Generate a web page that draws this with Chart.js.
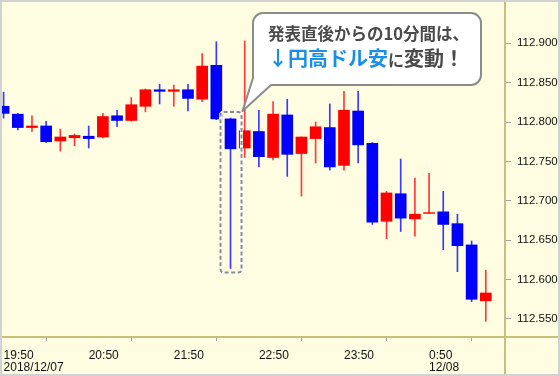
<!DOCTYPE html>
<html>
<head>
<meta charset="utf-8">
<script src="https://cdn.jsdelivr.net/npm/chart.js@4.4.1/dist/chart.umd.min.js"></script>
<style>
  html, body { margin: 0; padding: 0; background: #d2d2d2; }
  #wrap { width: 560px; height: 376px; }
</style>
</head>
<body>
<div id="wrap"><canvas id="chart" width="560" height="376"></canvas></div>
<script>
// 10-minute USD/JPY candles, 2018/12/07 19:50 -> 12/08 1:30
const opens  = [112.820,112.810,112.793,112.795,112.776,112.780,112.782,112.781,112.808,112.802,
                112.820,112.841,112.839,112.841,112.829,112.872,112.804,112.767,112.788,112.755,
                112.809,112.760,112.779,112.793,112.745,112.814,112.773,112.674,112.709,112.677,
                112.684,112.686,112.671,112.644,112.573];
const highs  = [112.838,112.811,112.808,112.801,112.791,112.785,112.795,112.811,112.815,112.831,
                112.842,112.848,112.847,112.848,112.887,112.902,112.805,112.903,112.815,112.826,
                112.829,112.781,112.800,112.823,112.839,112.839,112.774,112.712,112.753,112.729,
                112.735,112.712,112.683,112.649,112.612];
const lows   = [112.805,112.790,112.788,112.774,112.763,112.770,112.767,112.780,112.794,112.801,
                112.813,112.823,112.820,112.814,112.826,112.803,112.614,112.755,112.743,112.752,
                112.731,112.706,112.748,112.739,112.739,112.748,112.670,112.652,112.661,112.655,
                112.684,112.638,112.610,112.572,112.547];
const closes = [112.811,112.793,112.795,112.775,112.781,112.783,112.779,112.807,112.802,112.822,
                112.841,112.839,112.841,112.830,112.871,112.804,112.766,112.789,112.756,112.810,
                112.759,112.781,112.794,112.743,112.815,112.771,112.673,112.710,112.678,112.683,
                112.685,112.670,112.643,112.575,112.583];

const timeTicks  = [0, 6, 12, 18, 24, 30];
const timeLabels = [['19:50', '2018/12/07'], '20:50', '21:50', '22:50', '23:50', ['0:50', '12/08']];
const priceTicks = [112.55, 112.60, 112.65, 112.70, 112.75, 112.80, 112.85, 112.90];

const highlightIndex = 16;   // first 10 minutes after the release
const noteLine1 = '発表直後からの10分間は、';
const noteLine2 = [
  { text: '↓円高ドル安', color: '#1a8fe3', size: 20 },
  { text: 'に',          color: '#4a4a4a', size: 16 },
  { text: '変動！',      color: '#4a4a4a', size: 20 }
];

const UP = '#ff0000', DOWN = '#0000ff';
const UP_WICK = '#ff3a3a', DOWN_WICK = '#3a3aff';
const BG = '#fffde1', FRAME = '#d2d2d2', AXIS = '#c6c07a';
const FONT = '"Liberation Sans", Arial, sans-serif';
const JP = '"Noto Sans CJK JP", sans-serif';

const isUp = i => closes[i] >= opens[i];
const idx = opens.map((_, i) => i);

const backdrop = {
  id: 'backdrop',
  beforeDraw(chart) {
    const ctx = chart.ctx;
    ctx.save();
    ctx.fillStyle = FRAME;
    ctx.fillRect(0, 0, chart.width, chart.height);
    ctx.fillStyle = BG;
    ctx.fillRect(2, 2, chart.width - 4, chart.height - 4);
    ctx.restore();
  },
  beforeDatasetsDraw(chart) {
    const { ctx, chartArea: a } = chart;
    ctx.save();
    ctx.strokeStyle = AXIS;
    ctx.lineWidth = 2;
    ctx.beginPath();
    ctx.moveTo(2, a.bottom);
    ctx.lineTo(chart.width - 2, a.bottom);
    ctx.moveTo(a.right, 2);
    ctx.lineTo(a.right, chart.height - 2);
    ctx.stroke();
    ctx.restore();
  }
};

function roundRect(ctx, x, y, w, h, r) {
  ctx.beginPath();
  ctx.moveTo(x + r, y);
  ctx.arcTo(x + w, y, x + w, y + h, r);
  ctx.arcTo(x + w, y + h, x, y + h, r);
  ctx.arcTo(x, y + h, x, y, r);
  ctx.arcTo(x, y, x + w, y, r);
  ctx.closePath();
}

const callout = {
  id: 'callout',
  afterDatasetsDraw(chart) {
    const ctx = chart.ctx;
    const xs = chart.scales.x, ys = chart.scales.y;

    // dashed frame round the release candle
    const cx = xs.getPixelForValue(highlightIndex);
    const bx = cx - 10, bw = 21;
    const by = ys.getPixelForValue(highs[highlightIndex]) - 6;
    const bh = ys.getPixelForValue(lows[highlightIndex]) + 4 - by;
    ctx.save();
    ctx.lineWidth = 3;
    ctx.strokeStyle = '#ffffff';
    roundRect(ctx, bx, by, bw, bh, 3);
    ctx.stroke();
    ctx.lineWidth = 2;
    ctx.strokeStyle = '#8c8c8c';
    ctx.setLineDash([4, 2.5]);
    roundRect(ctx, bx, by, bw, bh, 3);
    ctx.stroke();
    ctx.restore();

    // speech bubble
    const L = 253, T = 13, R = 481, B = 85, r = 10;
    const ax = bx + bw + 1, ay = by - 1;
    ctx.save();
    ctx.beginPath();
    ctx.moveTo(L + r, T);
    ctx.lineTo(R - r, T);
    ctx.arcTo(R, T, R, T + r, r);
    ctx.lineTo(R, B - r);
    ctx.arcTo(R, B, R - r, B, r);
    ctx.lineTo(271, B);
    ctx.lineTo(ax, ay);
    ctx.lineTo(L, B - 7);
    ctx.lineTo(L, T + r);
    ctx.arcTo(L, T, L + r, T, r);
    ctx.closePath();
    ctx.fillStyle = '#ffffff';
    ctx.fill();
    ctx.lineWidth = 2;
    ctx.lineJoin = 'round';
    ctx.strokeStyle = '#8c8c8c';
    ctx.stroke();

    ctx.textBaseline = 'alphabetic';
    ctx.textAlign = 'left';
    ctx.fillStyle = '#4a4a4a';
    ctx.font = 'bold 16.5px ' + JP;
    ctx.fillText(noteLine1, 268, 40);

    let x = 268;
    noteLine2.forEach(seg => {
      ctx.font = `bold ${seg.size}px ${JP}`;
      ctx.fillStyle = seg.color;
      ctx.fillText(seg.text, x, 66);
      x += ctx.measureText(seg.text).width;
    });
    ctx.restore();
  }
};

new Chart(document.getElementById('chart'), {
  type: 'bar',
  data: {
    datasets: [
      {
        label: 'body',
        order: 0,
        data: idx.map(i => ({ x: i, y: [opens[i], closes[i]] })),
        backgroundColor: idx.map(i => isUp(i) ? UP : DOWN),
        barThickness: 11,
        grouped: false
      },
      {
        label: 'wick',
        order: 1,
        data: idx.map(i => ({ x: i, y: [lows[i], highs[i]] })),
        backgroundColor: idx.map(i => isUp(i) ? UP_WICK : DOWN_WICK),
        barThickness: 1,
        grouped: false
      }
    ]
  },
  options: {
    responsive: false,
    animation: false,
    devicePixelRatio: 1,
    layout: { padding: { left: 2, top: 2, right: 0, bottom: 0 } },
    plugins: { legend: { display: false }, tooltip: { enabled: false } },
    scales: {
      x: {
        type: 'linear',
        min: -0.113,
        max: 35.354,
        offset: false,
        border: { display: false },
        grid: { drawOnChartArea: false, tickLength: 4, color: '#a0a0a0' },
        afterBuildTicks: s => { s.ticks = timeTicks.map(v => ({ value: v })); },
        afterFit: s => { s.height = 39; s.paddingLeft = 0; s.paddingRight = 0; },
        ticks: {
          autoSkip: false,
          maxRotation: 0,
          align: 'start',
          padding: 9,
          color: '#111',
          font: { family: FONT, size: 12, lineHeight: 1 },
          callback: (v, i) => timeLabels[i]
        }
      },
      y: {
        position: 'right',
        min: 112.5271,
        max: 112.9524,
        border: { display: false },
        grid: { drawOnChartArea: false, tickLength: 6, color: '#a0a0a0' },
        afterBuildTicks: s => { s.ticks = priceTicks.map(v => ({ value: v })); },
        afterFit: s => { s.width = 55; s.paddingTop = 0; s.paddingBottom = 0; },
        ticks: {
          padding: 6,
          color: '#111',
          font: { family: FONT, size: 11.5 },
          callback: v => v.toFixed(3)
        }
      }
    }
  },
  plugins: [backdrop, callout]
});
</script>
</body>
</html>
